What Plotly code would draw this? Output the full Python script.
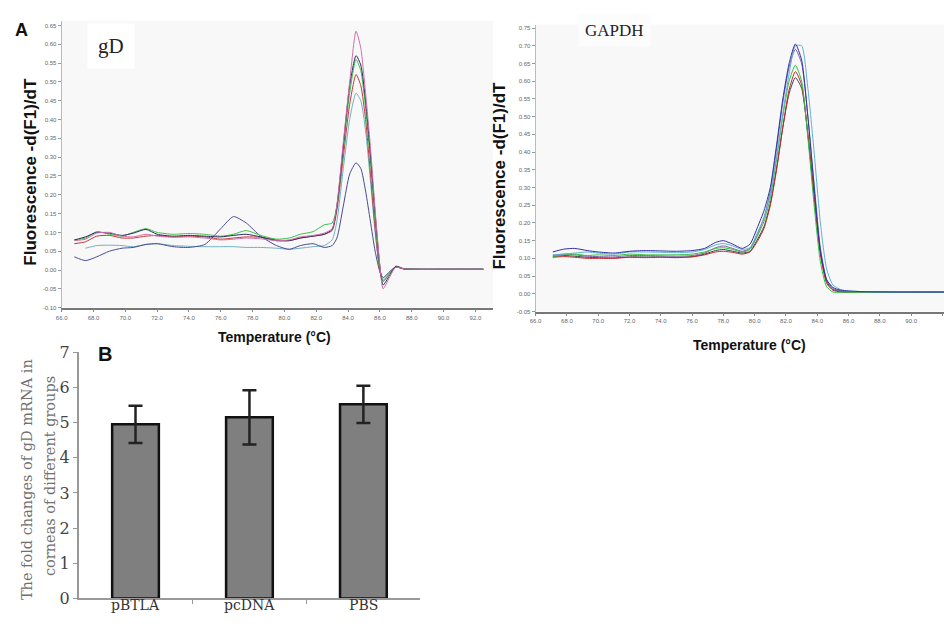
import plotly.graph_objects as go

# ---------------- data ----------------
# Panel A, gD melt curves
T_gd = [66.8, 67.5, 68.2, 69.0, 69.8, 70.5, 71.3, 72.0, 73.0, 74.0, 75.0, 76.0, 76.8, 77.6, 78.5,
        79.5, 80.3, 81.0, 81.8, 82.5, 83.0, 83.3, 83.7, 84.1, 84.5, 84.8, 85.1, 85.4, 85.7, 86.0,
        86.2, 86.6, 87.0, 87.5, 88.5, 90.0, 92.5]
gd_green = [0.080, 0.085, 0.102, 0.095, 0.090, 0.100, 0.110, 0.100, 0.095, 0.097, 0.095, 0.090, 0.095,
            0.105, 0.092, 0.082, 0.085, 0.095, 0.102, 0.120, 0.125, 0.170, 0.320, 0.470, 0.560, 0.530,
            0.430, 0.290, 0.130, 0.000, -0.030, -0.010, 0.010, 0.004, 0.002, 0.002, 0.002]
gd_red = [0.070, 0.075, 0.090, 0.092, 0.085, 0.085, 0.090, 0.092, 0.088, 0.090, 0.088, 0.082, 0.085,
          0.088, 0.087, 0.080, 0.078, 0.085, 0.090, 0.095, 0.105, 0.160, 0.300, 0.440, 0.520, 0.490,
          0.400, 0.260, 0.110, -0.005, -0.030, -0.010, 0.008, 0.003, 0.002, 0.002, 0.002]
gd_pink = [0.078, 0.082, 0.098, 0.100, 0.090, 0.088, 0.095, 0.090, 0.087, 0.088, 0.085, 0.080, 0.082,
           0.085, 0.083, 0.078, 0.080, 0.088, 0.092, 0.098, 0.110, 0.175, 0.340, 0.500, 0.635, 0.590,
           0.470, 0.330, 0.160, 0.010, -0.050, -0.020, 0.008, 0.003, 0.002, 0.002, 0.002]
gd_navy = [0.080, 0.088, 0.100, 0.098, 0.092, 0.098, 0.108, 0.095, 0.090, 0.092, 0.090, 0.088, 0.092,
           0.095, 0.088, 0.078, 0.078, 0.085, 0.090, 0.095, 0.108, 0.170, 0.330, 0.490, 0.570, 0.545,
           0.450, 0.310, 0.150, 0.010, -0.040, -0.015, 0.010, 0.003, 0.002, 0.002, 0.002]
gd_teal = [None, 0.058, 0.065, 0.066, 0.065, 0.062, 0.068, 0.070, 0.065, 0.063, 0.062, 0.062, 0.062,
           0.060, 0.060, 0.058, 0.055, 0.058, 0.062, 0.065, 0.080, 0.130, 0.270, 0.400, 0.470, 0.450,
           0.370, 0.240, 0.100, 0.000, -0.025, -0.005, 0.008, 0.003, 0.002, 0.002, 0.002]
gd_blue = [0.035, 0.025, 0.035, 0.050, 0.058, 0.060, 0.068, 0.070, 0.062, 0.060, 0.068, 0.110, 0.142,
           0.125, 0.090, 0.065, 0.055, 0.065, 0.070, 0.060, 0.065, 0.085, 0.170, 0.255, 0.285, 0.270,
           0.210, 0.130, 0.050, -0.005, -0.020, -0.005, 0.008, 0.003, 0.002, 0.002, 0.002]

# Panel A, GAPDH melt curves
T_gapdh = [67.1, 67.8, 68.5, 69.3, 70.0, 71.0, 72.0, 73.0, 74.0, 75.0, 76.0, 76.8, 77.5, 78.0, 78.6,
           79.2, 79.7, 80.2, 80.6, 81.0, 81.4, 81.8, 82.2, 82.6, 83.0, 83.4, 83.8, 84.2, 84.6, 85.0,
           85.5, 86.0, 87.0, 89.0, 92.5]
ga_blue = [0.118, 0.126, 0.128, 0.122, 0.118, 0.115, 0.120, 0.122, 0.121, 0.120, 0.122, 0.128, 0.145,
           0.150, 0.140, 0.128, 0.140, 0.190, 0.235, 0.300, 0.420, 0.550, 0.650, 0.705, 0.660, 0.500,
           0.300, 0.120, 0.040, 0.018, 0.010, 0.008, 0.006, 0.005, 0.005]
ga_teal = [0.110, 0.112, 0.115, 0.118, 0.115, 0.112, 0.118, 0.118, 0.117, 0.116, 0.118, 0.125, 0.138,
           0.142, 0.135, 0.125, 0.130, 0.175, 0.215, 0.280, 0.390, 0.510, 0.620, 0.700, 0.700, 0.580,
           0.400, 0.200, 0.070, 0.025, 0.012, 0.008, 0.006, 0.005, 0.005]
ga_green = [0.105, 0.110, 0.112, 0.108, 0.110, 0.108, 0.112, 0.110, 0.110, 0.110, 0.112, 0.118, 0.128,
            0.130, 0.125, 0.118, 0.125, 0.165, 0.205, 0.270, 0.380, 0.500, 0.600, 0.645, 0.600, 0.440,
            0.250, 0.090, 0.020, 0.005, 0.004, 0.004, 0.004, 0.004, 0.004]
ga_red = [0.103, 0.105, 0.103, 0.100, 0.100, 0.100, 0.103, 0.102, 0.103, 0.102, 0.104, 0.110, 0.118,
          0.120, 0.117, 0.112, 0.118, 0.150, 0.185, 0.250, 0.350, 0.470, 0.575, 0.627, 0.590, 0.450,
          0.270, 0.110, 0.030, 0.010, 0.005, 0.004, 0.004, 0.004, 0.004]
ga_dark = [0.105, 0.108, 0.106, 0.103, 0.102, 0.101, 0.104, 0.104, 0.104, 0.103, 0.105, 0.112, 0.122,
           0.125, 0.120, 0.115, 0.120, 0.155, 0.190, 0.255, 0.355, 0.470, 0.565, 0.610, 0.580, 0.450,
           0.280, 0.120, 0.035, 0.012, 0.007, 0.005, 0.005, 0.005, 0.005]
ga_purple = [0.108, 0.112, 0.110, 0.106, 0.105, 0.104, 0.108, 0.108, 0.107, 0.106, 0.108, 0.115, 0.130,
             0.135, 0.128, 0.120, 0.128, 0.170, 0.215, 0.290, 0.410, 0.540, 0.640, 0.690, 0.650, 0.500,
             0.310, 0.130, 0.040, 0.015, 0.008, 0.006, 0.005, 0.005, 0.005]

temp_ticks = [66.0, 68.0, 70.0, 72.0, 74.0, 76.0, 78.0, 80.0, 82.0, 84.0, 86.0, 88.0, 90.0, 92.0]
gd_yticks = [-0.10, -0.05, 0.00, 0.05, 0.10, 0.15, 0.20, 0.25, 0.30, 0.35, 0.40, 0.45, 0.50, 0.55, 0.60, 0.65]
ga_yticks = [-0.05, 0.00, 0.05, 0.10, 0.15, 0.20, 0.25, 0.30, 0.35, 0.40, 0.45, 0.50, 0.55, 0.60, 0.65, 0.70, 0.75]

# Panel B
groups = ["pBTLA", "pcDNA", "PBS"]
fold_change = [4.95, 5.15, 5.52]
fold_err = [0.53, 0.77, 0.53]
bar_yticks = [0, 1, 2, 3, 4, 5, 6, 7]

# ---------------- figure ----------------
W, H = 944, 624
def px(x): return x / W
def py(y): return 1 - y / H

fig = go.Figure()

gd_series = [(gd_teal, "#6fb0c0"), (gd_blue, "#4a4a96"), (gd_red, "#c03a3a"),
             (gd_green, "#3cc04a"), (gd_navy, "#2a2a60"), (gd_pink, "#d070a8")]
for ys, c in gd_series:
    fig.add_trace(go.Scatter(x=T_gd, y=ys, mode="lines", line=dict(color=c, width=1, shape="spline", smoothing=0.6),
                             xaxis="x", yaxis="y", showlegend=False, hoverinfo="skip"))

ga_series = [(ga_dark, "#404048"), (ga_red, "#c02828"), (ga_purple, "#8060a8"),
             (ga_green, "#30c040"), (ga_teal, "#60b0d0"), (ga_blue, "#3030a8")]
for ys, c in ga_series:
    fig.add_trace(go.Scatter(x=T_gapdh, y=ys, mode="lines", line=dict(color=c, width=1, shape="spline", smoothing=0.6),
                             xaxis="x2", yaxis="y2", showlegend=False, hoverinfo="skip"))

fig.add_trace(go.Bar(x=[0, 1, 2], y=fold_change, width=0.41,
                     marker=dict(color="#7f7f7f", line=dict(color="#111111", width=2.5)),
                     error_y=dict(type="data", array=fold_err, color="#222222", thickness=2.5, width=7),
                     xaxis="x3", yaxis="y3", showlegend=False, hoverinfo="skip"))

tickfont_small = dict(family="Liberation Sans", size=6, color="#666666")

fig.update_layout(
    width=W, height=H, margin=dict(l=0, r=0, t=0, b=0),
    paper_bgcolor="white", plot_bgcolor="#f8f8f8",
    xaxis=dict(domain=[px(56), px(490)], range=[66, 93.1], anchor="y",
               tickvals=temp_ticks, ticktext=[f"{v:.1f}" for v in temp_ticks],
               tickfont=tickfont_small, ticks="outside", ticklen=3, tickcolor="#888",
               showline=True, linecolor="#777", linewidth=1.5, showgrid=False, zeroline=False),
    yaxis=dict(domain=[py(308), py(12)], range=[-0.10, 0.663], anchor="x",
               tickvals=gd_yticks, ticktext=[f"{v:.2f}" for v in gd_yticks],
               tickfont=tickfont_small, ticks="outside", ticklen=3, tickcolor="#999",
               showline=True, linecolor="#bbb", linewidth=1, showgrid=False, zeroline=False),
    xaxis2=dict(domain=[px(533), 1.0], range=[66, 92.1], anchor="y2",
                tickvals=temp_ticks, ticktext=[f"{v:.1f}" for v in temp_ticks],
                tickfont=tickfont_small, ticks="outside", ticklen=3, tickcolor="#888",
                showline=True, linecolor="#777", linewidth=1.5, showgrid=False, zeroline=False),
    yaxis2=dict(domain=[py(312), py(16)], range=[-0.05, 0.76], anchor="x2",
                tickvals=ga_yticks, ticktext=[f"{v:.2f}" for v in ga_yticks],
                tickfont=tickfont_small, ticks="outside", ticklen=3, tickcolor="#999",
                showline=True, linecolor="#bbb", linewidth=1, showgrid=False, zeroline=False),
    xaxis3=dict(domain=[px(73), px(417)], range=[-0.5, 2.5], anchor="y3",
                tickvals=[0, 1, 2], ticktext=["", "", ""], ticks="",
                minor=dict(tickvals=[0.5, 1.5], ticks="outside", ticklen=4, tickcolor="#999"),
                showline=True, linecolor="#999", linewidth=1.5, showgrid=False, zeroline=False),
    yaxis3=dict(domain=[py(608), py(354)], range=[0, 7], anchor="x3",
                tickvals=bar_yticks, ticks="outside", ticklen=4, tickcolor="#999",
                tickfont=dict(family="DejaVu Serif", size=16, color="#444"),
                showline=True, linecolor="#999", linewidth=1.5, showgrid=False, zeroline=False),
)
fig.add_shape(type="rect", xref="x3 domain", yref="y3 domain", x0=0, x1=1, y0=0, y1=1,
              fillcolor="white", line_width=0, layer="below")

ann = [
    dict(x=px(16), y=py(22), text="<b>A</b>", font=dict(family="Liberation Sans", size=18, color="#111")),
    dict(x=px(100), y=py(356), text="<b>B</b>", font=dict(family="Liberation Sans", size=20, color="#111")),
    dict(x=px(106), y=py(38), text="gD", font=dict(family="Liberation Serif", size=21, color="#222"),
         bgcolor="white", borderpad=10),
    dict(x=px(612), y=py(22), text="GAPDH", font=dict(family="Liberation Serif", size=17, color="#222"),
         bgcolor="#fcfcfc", borderpad=6),
    dict(x=px(25), y=py(168), text="<b>Fluorescence -d(F1)/dT</b>", textangle=-90,
         font=dict(family="Liberation Sans", size=17, color="#111")),
    dict(x=px(497), y=py(172), text="<b>Fluorescence -d(F1)/dT</b>", textangle=-90,
         font=dict(family="Liberation Sans", size=17, color="#111")),
    dict(x=px(270), y=py(338), text="<b>Temperature (°C)</b>",
         font=dict(family="Liberation Sans Narrow, Liberation Sans", size=14, color="#111")),
    dict(x=px(748), y=py(347), text="<b>Temperature (°C)</b>",
         font=dict(family="Liberation Sans Narrow, Liberation Sans", size=14, color="#111")),
    dict(x=px(21), y=py(485), text="The fold changes of gD mRNA in", textangle=-90,
         font=dict(family="DejaVu Serif", size=14.5, color="#707070")),
    dict(x=px(45), y=py(482), text="corneas of different groups", textangle=-90,
         font=dict(family="DejaVu Serif", size=14.5, color="#707070")),
]
for a in ann:
    a.update(xref="paper", yref="paper", showarrow=False, xanchor="center", yanchor="middle")
for i, g in enumerate(groups):
    ann.append(dict(x=i, xref="x3", y=0, yref="paper", yanchor="bottom", xanchor="center",
                    text=g, showarrow=False, borderpad=0,
                    font=dict(family="DejaVu Serif", size=14, color="#333")))
fig.update_layout(annotations=ann)

fig.write_html("out.html", config={"displayModeBar": False},
               post_script="document.body.style.margin='0';document.body.style.overflow='hidden';")
